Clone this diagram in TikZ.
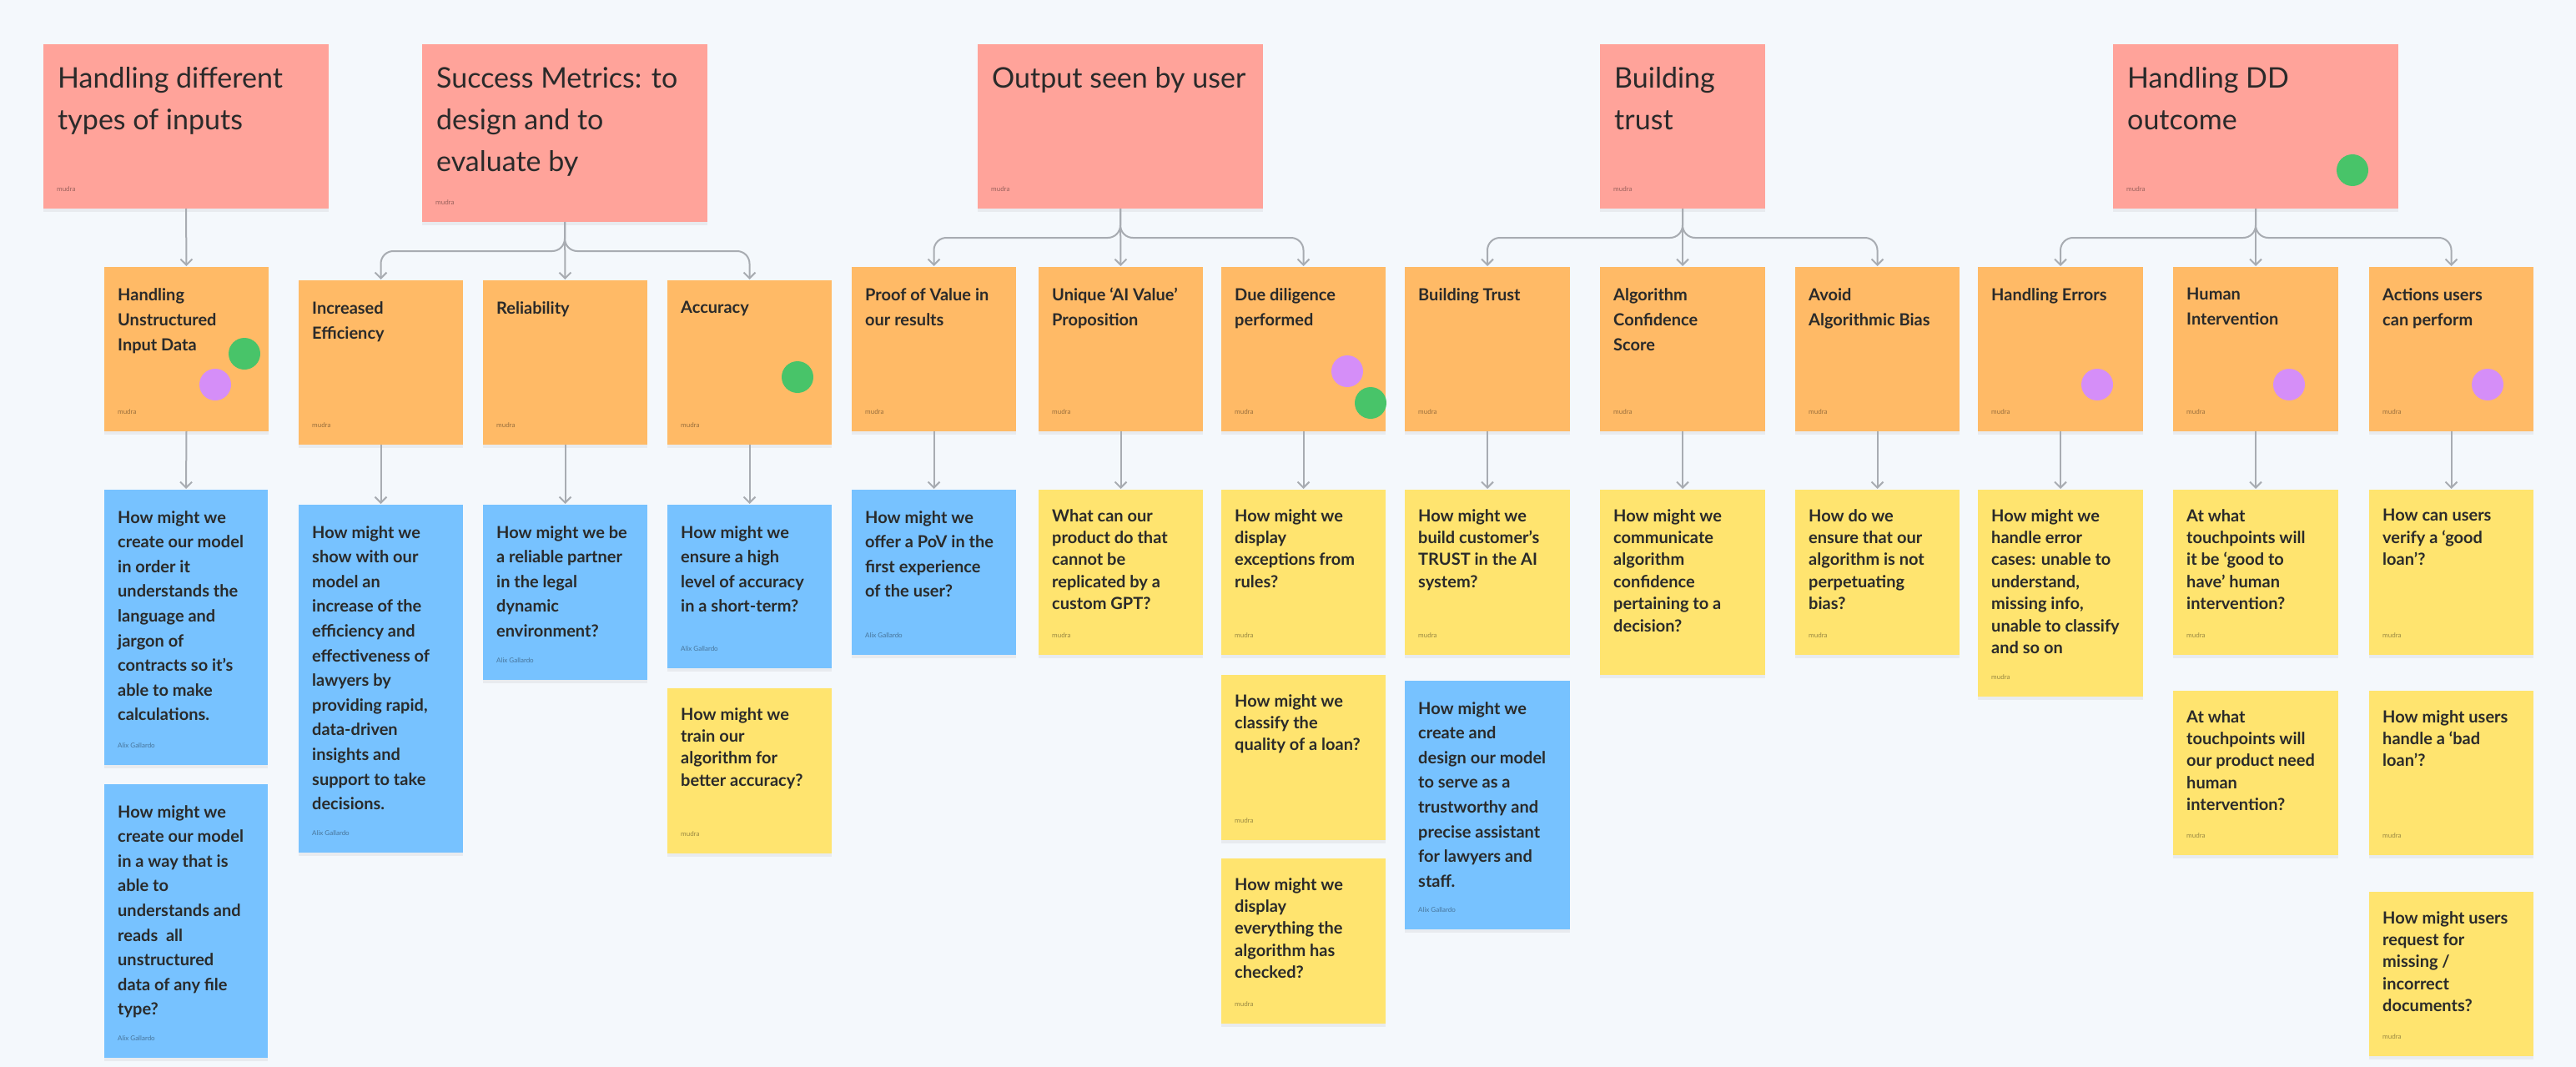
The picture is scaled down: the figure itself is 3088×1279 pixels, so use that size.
\documentclass[tikz,border=0pt]{standalone}
\usepackage{fontspec}
\setmainfont{Lato}
\usetikzlibrary{arrows.meta,shadows,calc}
\definecolor{bgc}{HTML}{F4F8FC}
\definecolor{pinkc}{HTML}{FFA39A}
\definecolor{orangec}{HTML}{FFBA66}
\definecolor{bluec}{HTML}{77C2FF}
\definecolor{yellowc}{HTML}{FFE46F}
\definecolor{greenc}{HTML}{48C469}
\definecolor{purplec}{HTML}{D58EF8}
\definecolor{linec}{HTML}{A8ACB2}
\definecolor{txtc}{HTML}{2A2A2A}
\tikzset{
  card/.style={rectangle, inner sep=0pt, outer sep=0pt, draw=none,
    drop shadow={shadow xshift=0pt, shadow yshift=-4pt, opacity=0.10}},
  hdr/.style={fill=pinkc},
  ora/.style={fill=orangec},
  blu/.style={fill=bluec},
  yel/.style={fill=yellowc},
  hdrtxt/.style={anchor=north west, inner sep=0pt, align=left, text=txtc,
    font=\fontsize{34}{50}\selectfont, xshift=17pt, yshift=-27pt},
  oratxt/.style={anchor=north west, inner sep=0pt, align=left, text=txtc,
    font=\bfseries\fontsize{20}{30}\selectfont, xshift=16pt, yshift=-25pt},
  blutxt/.style={anchor=north west, inner sep=0pt, align=left, text=txtc,
    font=\bfseries\fontsize{20}{29.6}\selectfont, xshift=16pt, yshift=-25pt},
  yeltxt/.style={anchor=north west, inner sep=0pt, align=left, text=txtc,
    font=\bfseries\fontsize{20}{26.4}\selectfont, xshift=16pt, yshift=-23pt},
  foot/.style={anchor=west, inner sep=0pt, xshift=16pt, yshift=23pt,
    font=\fontsize{8}{9}\selectfont, text=black, text opacity=0.4},
  conn/.style={draw=linec, line width=2pt,
    -{Straight Barb[length=7pt,width=14pt]}, shorten >=1pt},
  branch/.style={conn, rounded corners=15pt},
  stickerdot/.style={circle, inner sep=0pt, minimum size=38pt, draw=none},
}
% #1 name, #2 type, #3 left, #4 top, #5 width, #6 height, #7 text, #8 footer
\newcommand\sticky[8]{%
  \node[card,#2, minimum width=#5pt, minimum height=#6pt, anchor=north west] (#1) at (#3,#4) {};
  \node[#2txt] (#1-t) at (#1.north west) {#7};
  \def\stickyfoot{#8}%
  \ifx\stickyfoot\empty\else
    \node[foot] (#1-f) at (#1.south west) {#8};
  \fi}
\begin{document}
\begin{tikzpicture}[x=1pt,y=-1pt]
\useasboundingbox (0,0) rectangle (3088,1279);
\fill[bgc] (0,0) rectangle (3088,1279);

% headers
\sticky{h1}{hdr}{52}{53}{342}{197}{Handling different\\types of inputs}{mudra}
\sticky{h2}{hdr}{506}{53}{342}{213}{Success Metrics: to\\design and to\\evaluate by}{mudra}
\sticky{h3}{hdr}{1172}{53}{342}{197}{Output seen by user}{mudra}
\sticky{h4}{hdr}{1918}{53}{198}{197}{Building\\trust}{mudra}
\sticky{h5}{hdr}{2533}{53}{342}{197}{Handling DD\\outcome}{mudra}

% orange topic cards
\sticky{o1}{ora}{125}{320}{197}{197}{Handling\\Unstructured\\Input Data}{mudra}
\sticky{o2}{ora}{358}{336}{197}{197}{Increased\\Efficiency}{mudra}
\sticky{o3}{ora}{579}{336}{197}{197}{Reliability}{mudra}
\sticky{o4}{ora}{800}{336}{197}{197}{Accuracy}{mudra}
\sticky{o5}{ora}{1021}{320}{197}{197}{Proof of Value in\\our results}{mudra}
\sticky{o6}{ora}{1245}{320}{197}{197}{Unique ‘AI Value’\\Proposition}{mudra}
\sticky{o7}{ora}{1464}{320}{197}{197}{Due diligence\\performed}{mudra}
\sticky{o8}{ora}{1684}{320}{198}{197}{Building Trust}{mudra}
\sticky{o9}{ora}{1918}{320}{198}{197}{Algorithm\\Confidence\\Score}{mudra}
\sticky{o10}{ora}{2152}{320}{197}{197}{Avoid\\Algorithmic Bias}{mudra}
\sticky{o11}{ora}{2371}{320}{198}{197}{Handling Errors}{mudra}
\sticky{o12}{ora}{2605}{320}{198}{197}{Human\\Intervention}{mudra}
\sticky{o13}{ora}{2840}{320}{197}{197}{Actions users\\can perform}{mudra}

% question cards
\sticky{q1a}{blu}{125}{587}{196}{330}{How might we\\create our model\\in order it\\understands the\\language and\\jargon of\\contracts so it’s\\able to make\\calculations.}{Alix Gallardo}
\sticky{q1b}{blu}{125}{940}{196}{328}{How might we\\create our model\\in a way that is\\able to\\understands and\\reads~ all\\unstructured\\data of any file\\type?}{Alix Gallardo}
\sticky{q2}{blu}{358}{605}{197}{417}{How might we\\show with our\\model an\\increase of the\\efficiency and\\effectiveness of\\lawyers by\\providing rapid,\\data-driven\\insights and\\support to take\\decisions.}{Alix Gallardo}
\sticky{q3}{blu}{579}{605}{197}{210}{How might we be\\a reliable partner\\in the legal\\dynamic\\environment?}{Alix Gallardo}
\sticky{q4a}{blu}{800}{605}{197}{196}{How might we\\ensure a high\\level of accuracy\\in a short-term?}{Alix Gallardo}
\sticky{q4b}{yel}{800}{825}{197}{198}{How might we\\train our\\algorithm for\\better accuracy?}{mudra}
\sticky{q5}{blu}{1021}{587}{197}{198}{How might we\\offer a PoV in the\\first experience\\of the user?}{Alix Gallardo}
\sticky{q6}{yel}{1245}{587}{197}{198}{What can our\\product do that\\cannot be\\replicated by a\\custom GPT?}{mudra}
\sticky{q7a}{yel}{1464}{587}{197}{198}{How might we\\display\\exceptions from\\rules?}{mudra}
\sticky{q7b}{yel}{1464}{809}{197}{198}{How might we\\classify the\\quality of a loan?}{mudra}
\sticky{q7c}{yel}{1464}{1029}{197}{198}{How might we\\display\\everything the\\algorithm has\\checked?}{mudra}
\sticky{q8a}{yel}{1684}{587}{198}{198}{How might we\\build customer’s\\TRUST in the AI\\system?}{mudra}
\sticky{q8b}{blu}{1684}{816}{198}{298}{How might we\\create and\\design our model\\to serve as a\\trustworthy and\\precise assistant\\for lawyers and\\staff.}{Alix Gallardo}
\sticky{q9}{yel}{1918}{587}{198}{222}{How might we\\communicate\\algorithm\\confidence\\pertaining to a\\decision?}{}
\sticky{q10}{yel}{2152}{587}{197}{198}{How do we\\ensure that our\\algorithm is not\\perpetuating\\bias?}{mudra}
\sticky{q11}{yel}{2371}{587}{198}{248}{How might we\\handle error\\cases: unable to\\understand,\\missing info,\\unable to classify\\and so on}{mudra}
\sticky{q12a}{yel}{2605}{587}{198}{198}{At what\\touchpoints will\\it be ‘good to\\have’ human\\intervention?}{mudra}
\sticky{q12b}{yel}{2605}{828}{198}{197}{At what\\touchpoints will\\our product need\\human\\intervention?}{mudra}
\sticky{q13a}{yel}{2840}{587}{197}{198}{How can users\\verify a ‘good\\loan’?}{mudra}
\sticky{q13b}{yel}{2840}{828}{197}{197}{How might users\\handle a ‘bad\\loan’?}{mudra}
\sticky{q13c}{yel}{2840}{1069}{197}{197}{How might users\\request for\\missing /\\incorrect\\documents?}{mudra}

% voting dots
\node[stickerdot, fill=greenc] (d1) at (293,424) {};
\node[stickerdot, fill=purplec] (d2) at (258,461) {};
\node[stickerdot, fill=greenc] (d3) at (956,452) {};
\node[stickerdot, fill=purplec] (d4) at (1615,445) {};
\node[stickerdot, fill=greenc] (d5) at (1643,483) {};
\node[stickerdot, fill=greenc] (d6) at (2820,204) {};
\node[stickerdot, fill=purplec] (d7) at (2514,461) {};
\node[stickerdot, fill=purplec] (d8) at (2744,461) {};
\node[stickerdot, fill=purplec] (d9) at (2982,461) {};

% header connectors
\draw[conn] (h1.south) -- (o1.north);
\draw[conn] (h2.south) -- (o3.north);
\draw[branch] (h2.south) -- ($(h2.south |- o2.north)+(0,-35)$) -| (o2.north);
\draw[branch] (h2.south) -- ($(h2.south |- o4.north)+(0,-35)$) -| (o4.north);
\draw[conn] (h3.south) -- (o6.north);
\draw[branch] (h3.south) -- ($(h3.south |- o5.north)+(0,-35)$) -| (o5.north);
\draw[branch] (h3.south) -- ($(h3.south |- o7.north)+(0,-35)$) -| (o7.north);
\draw[conn] (h4.south) -- (o9.north);
\draw[branch] (h4.south) -- ($(h4.south |- o8.north)+(0,-35)$) -| (o8.north);
\draw[branch] (h4.south) -- ($(h4.south |- o10.north)+(0,-35)$) -| (o10.north);
\draw[conn] (h5.south) -- (o12.north);
\draw[branch] (h5.south) -- ($(h5.south |- o11.north)+(0,-35)$) -| (o11.north);
\draw[branch] (h5.south) -- ($(h5.south |- o13.north)+(0,-35)$) -| (o13.north);

% topic to question connectors
\draw[conn] (o1.south) -- (q1a.north);
\draw[conn] (o2.south) -- (q2.north);
\draw[conn] (o3.south) -- (q3.north);
\draw[conn] (o4.south) -- (q4a.north);
\draw[conn] (o5.south) -- (q5.north);
\draw[conn] (o6.south) -- (q6.north);
\draw[conn] (o7.south) -- (q7a.north);
\draw[conn] (o8.south) -- (q8a.north);
\draw[conn] (o9.south) -- (q9.north);
\draw[conn] (o10.south) -- (q10.north);
\draw[conn] (o11.south) -- (q11.north);
\draw[conn] (o12.south) -- (q12a.north);
\draw[conn] (o13.south) -- (q13a.north);
\end{tikzpicture}
\end{document}
